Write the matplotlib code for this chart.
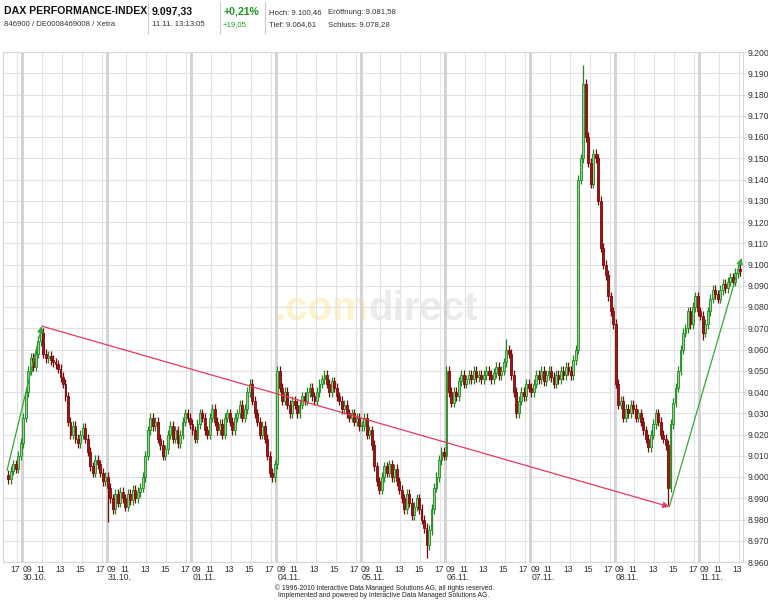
import matplotlib
matplotlib.use("Agg")
import matplotlib.pyplot as plt
from matplotlib.ticker import FuncFormatter
from matplotlib.transforms import blended_transform_factory
import numpy as np

plt.rcParams['font.family'] = ['Liberation Sans', 'DejaVu Sans']

# ---------------- data ----------------
day_labels = ['29.10.', '30.10.', '31.10.', '01.11.', '04.11.', '05.11.',
              '06.11.', '07.11.', '08.11.', '11.11.']
day_first_hour = [16.0, 9.0, 9.0, 9.0, 9.0, 9.0, 9.0, 9.0, 9.0, 9.0]
first_open = 9001

# 15-minute closes per trading day
close_2910 = [8999, 9003, 9006, 9004, 9010, 9016]
close_3010 = [9028, 9040, 9050, 9056, 9052, 9058, 9064, 9068, 9058, 9056,
              9057, 9055, 9054, 9053, 9051, 9047, 9044, 9038, 9026, 9020,
              9024, 9018, 9016, 9020, 9023, 9018, 9012, 9005, 9002, 9008,
              9006, 9002, 8998, 9000]
close_3110 = [8995, 8990, 8985, 8992, 8988, 8993, 8990, 8986, 8992, 8989,
              8994, 8990, 8993, 8995, 9000, 9010, 9022, 9028, 9024, 9026,
              9018, 9015, 9010, 9013, 9020, 9024, 9018, 9022, 9016, 9020,
              9026, 9030, 9028, 9025]
close_0111 = [9022, 9018, 9025, 9030, 9028, 9022, 9020, 9028, 9032, 9026,
              9022, 9025, 9020, 9028, 9030, 9026, 9022, 9028, 9030, 9034,
              9028, 9032, 9040, 9044, 9036, 9030, 9026, 9020, 9024, 9018,
              9010, 9002, 9000, 9006]
close_0411 = [9050, 9042, 9036, 9040, 9034, 9030, 9036, 9034, 9030, 9034,
              9038, 9036, 9040, 9042, 9038, 9036, 9040, 9044, 9046, 9048,
              9044, 9040, 9045, 9042, 9038, 9036, 9032, 9034, 9030, 9028,
              9030, 9026, 9028, 9024]
close_0511 = [9024, 9028, 9020, 9022, 9015, 9005, 8998, 8994, 9000, 9005,
              9002, 9006, 9000, 9004, 8998, 8994, 8990, 8985, 8992, 8988,
              8982, 8986, 8990, 8985, 8980, 8976, 8968, 8975, 8985, 8995,
              9000, 9008, 9012, 9010]
close_0611 = [9050, 9040, 9035, 9040, 9038, 9045, 9048, 9044, 9046, 9048,
              9046, 9050, 9047, 9048, 9046, 9048, 9050, 9048, 9046, 9049,
              9052, 9048, 9050, 9054, 9060, 9058, 9048, 9040, 9030, 9036,
              9040, 9038, 9044, 9042]
close_0711 = [9040, 9044, 9048, 9046, 9050, 9045, 9048, 9050, 9047, 9044,
              9048, 9046, 9050, 9048, 9052, 9050, 9048, 9055, 9060, 9140,
              9150, 9185, 9160, 9148, 9138, 9152, 9150, 9130, 9108, 9100,
              9095, 9085, 9078, 9072]
close_0811 = [9044, 9034, 9036, 9028, 9032, 9030, 9034, 9032, 9028, 9030,
              9026, 9022, 9018, 9014, 9020, 9025, 9030, 9026, 9020, 9018,
              9015, 8995, 9025, 9035, 9042, 9050, 9060, 9068, 9070, 9078,
              9072, 9080, 9085, 9078]
close_1111 = [9076, 9068, 9072, 9078, 9084, 9088, 9086, 9084, 9088, 9091,
              9089, 9092, 9094, 9092, 9096, 9098, 9097]
all_closes = [close_2910, close_3010, close_3110, close_0111, close_0411,
              close_0511, close_0611, close_0711, close_0811, close_1111]

# notable wick extremes: (day index, candle index, high or low, value)
wick_extremes = [(7, 21, 'high', 9194), (5, 26, 'low', 8962),
                 (8, 21, 'low', 8987), (2, 0, 'low', 8979),
                 (6, 24, 'high', 9065), (9, 1, 'low', 9064.6)]

# trend arrows: (day index, hour, price)
green_up_start = (0, 16.0, 9003)
peak_point = (1, 11.0, 9071)
trough_point = (8, 14.5, 8986)
green_end_point = (9, 13.25, 9103)

y_ticks = list(range(8960, 9201, 10))
hour_ticks = [11, 13, 15, 17]

header_title = 'DAX PERFORMANCE-INDEX'
header_sub = '846900 / DE0008469008 / Xetra'
header_last = '9.097,33'
header_time = '11.11. 13:13:05'
header_pct = '+0,21%'
header_abs = '+19,05'
header_hoch = 'Hoch: 9.100,46'
header_tief = 'Tief: 9.064,61'
header_eroeff = 'Eröffnung: 9.081,58'
header_schluss = 'Schluss: 9.078,28'

# ---------------- helpers ----------------
DAY_LEN = 8.5


def xpos(day, hour):
    return day * DAY_LEN + (hour - 9.0)


# ---------------- figure ----------------
W, H = 768, 600
fig = plt.figure(figsize=(W / 100, H / 100), dpi=100)
fig.patch.set_facecolor('white')

px_left, px_right, px_top, px_bottom = 3, 743, 52, 562
ax = fig.add_axes([px_left / W, 1 - px_bottom / H,
                   (px_right - px_left) / W, (px_bottom - px_top) / H])
xmin = xpos(0, 15.6)
xmax = xpos(9, 13.4)
ax.set_xlim(xmin, xmax)
ax.set_ylim(8960, 9200)

# grid
for v in y_ticks:
    ax.axhline(v, color='#e2e2e2', lw=0.8, zorder=1)
for d in range(len(day_labels)):
    for h in hour_ticks:
        x = xpos(d, h)
        if xmin < x < xmax:
            ax.axvline(x, color='#e2e2e2', lw=0.8, zorder=1)
    if d > 0:
        ax.axvline(xpos(d, 9.0), color='#d2d2d2', lw=2.0, zorder=1)

# candles
wick_len = 2.2
body_w = 0.19
prev = first_open
xs, opens, closes, highs, lows = [], [], [], [], []
for d, (cl, h0) in enumerate(zip(all_closes, day_first_hour)):
    for k, c in enumerate(cl):
        o = prev
        hi = max(o, c) + wick_len
        lo = min(o, c) - wick_len
        for (dd, kk, kind, val) in wick_extremes:
            if dd == d and kk == k:
                if kind == 'high':
                    hi = val
                else:
                    lo = val
        xs.append(xpos(d, h0 + (k + 0.5) * 0.25))
        opens.append(o)
        closes.append(c)
        highs.append(hi)
        lows.append(lo)
        prev = c
xs = np.array(xs)
opens = np.array(opens)
closes = np.array(closes)
highs = np.array(highs)
lows = np.array(lows)
up = closes >= opens
up_edge, up_face = '#1f8a1f', '#8fd68a'
dn_edge, dn_face = '#7a0a0a', '#9b1515'
ax.vlines(xs[up], lows[up], highs[up], color=up_edge, lw=0.9, zorder=3)
ax.vlines(xs[~up], lows[~up], highs[~up], color=dn_edge, lw=0.9, zorder=3)
ax.bar(xs[up], np.maximum(closes[up] - opens[up], 0.4), bottom=opens[up],
       width=body_w, color=up_face, edgecolor=up_edge, lw=0.6, zorder=4)
ax.bar(xs[~up], opens[~up] - closes[~up], bottom=closes[~up],
       width=body_w, color=dn_face, edgecolor=dn_edge, lw=0.6, zorder=4)


# arrows
def P(t):
    return (xpos(t[0], t[1]), t[2])


green = '#35a835'
red = '#e8365e'
arrow_kw = dict(arrowstyle='-|>', lw=0.9, mutation_scale=9, shrinkA=0, shrinkB=0)
ax.annotate('', xy=P(peak_point), xytext=P(green_up_start),
            arrowprops=dict(color=green, **arrow_kw), zorder=6)
ax.annotate('', xy=P(trough_point), xytext=P(peak_point),
            arrowprops=dict(color=red, **arrow_kw), zorder=6)
ax.annotate('', xy=P(green_end_point), xytext=P(trough_point),
            arrowprops=dict(color=green, **arrow_kw), zorder=6)

# axes styling
for s in ax.spines.values():
    s.set_color('#d8d8d8')
    s.set_linewidth(0.8)
ax.set_xticks([])
ax.yaxis.tick_right()
ax.set_yticks(y_ticks)
ax.yaxis.set_major_formatter(FuncFormatter(lambda v, p: f'{int(v):,}'.replace(',', '.')))
ax.tick_params(axis='y', length=2, width=0.6, color='#d8d8d8', pad=1,
               labelsize=6.2, labelcolor='#333333')

# x labels
tr = blended_transform_factory(ax.transData, fig.transFigure)
y_hour = 1 - 569.5 / H
y_day = 1 - 577.5 / H
for d, lab in enumerate(day_labels):
    for h in hour_ticks:
        x = xpos(d, h)
        if xmin < x < xmax:
            ax.text(x - 0.15, y_hour, f'{h:02d}', transform=tr, ha='center',
                    va='center', fontsize=6.2, color='#333333', clip_on=False)
    if d > 0:
        x0 = xpos(d, 9.0)
        ax.text(x0 + 0.05, y_hour, '09', transform=tr, ha='left', va='center',
                fontsize=6.2, color='#333333', clip_on=False)
        ax.text(x0 + 1.3, y_day, lab, transform=tr, ha='center', va='center',
                fontsize=6.2, color='#333333', clip_on=False)

# watermark
ax.text(368 / W, 1 - 320 / H, '.com', transform=fig.transFigure, ha='right',
        va='baseline', fontsize=29, fontweight='bold', color='#fdf3cc', zorder=0.5)
ax.text(368 / W, 1 - 320 / H, 'direct', transform=fig.transFigure, ha='left',
        va='baseline', fontsize=29, fontweight='bold', color='#ebebeb', zorder=0.5)


# header
def ftext(x, y, s, **kw):
    fig.text(x / W, 1 - y / H, s, va='center', ha='left', **kw)


ftext(4, 11.5, header_title, fontsize=7.6, fontweight='bold', color='#111111')
ftext(4, 24.5, header_sub, fontsize=5.6, color='#333333')
ftext(152, 11.5, header_last, fontsize=7.6, fontweight='bold', color='#111111')
ftext(152, 24.5, header_time, fontsize=5.6, color='#333333')
ftext(223, 11.5, header_pct, fontsize=7.6, fontweight='bold', color='#1e9a1e')
ftext(223, 24.5, header_abs, fontsize=5.6, color='#1e9a1e')
ftext(269, 12.5, header_hoch, fontsize=5.6, color='#333333')
ftext(269, 24.5, header_tief, fontsize=5.6, color='#333333')
ftext(328, 12.5, header_eroeff, fontsize=5.6, color='#333333')
ftext(328, 24.5, header_schluss, fontsize=5.6, color='#333333')
for xsep in (148, 220, 265):
    fig.add_artist(plt.Line2D([xsep / W, xsep / W], [1 - 2 / H, 1 - 33 / H],
                              color='#cccccc', lw=0.8, transform=fig.transFigure))

# footer
fig.text(385 / W, 1 - 588.5 / H,
         '© 1996-2010 Interactive Data Managed Solutions AG, all rights reserved.',
         ha='center', va='center', fontsize=4.9, color='#222222')
fig.text(384 / W, 1 - 595.5 / H,
         'Implemented and powered by Interactive Data Managed Solutions AG.',
         ha='center', va='center', fontsize=4.9, color='#222222')

fig.savefig('out.png', dpi=100, facecolor='white')
